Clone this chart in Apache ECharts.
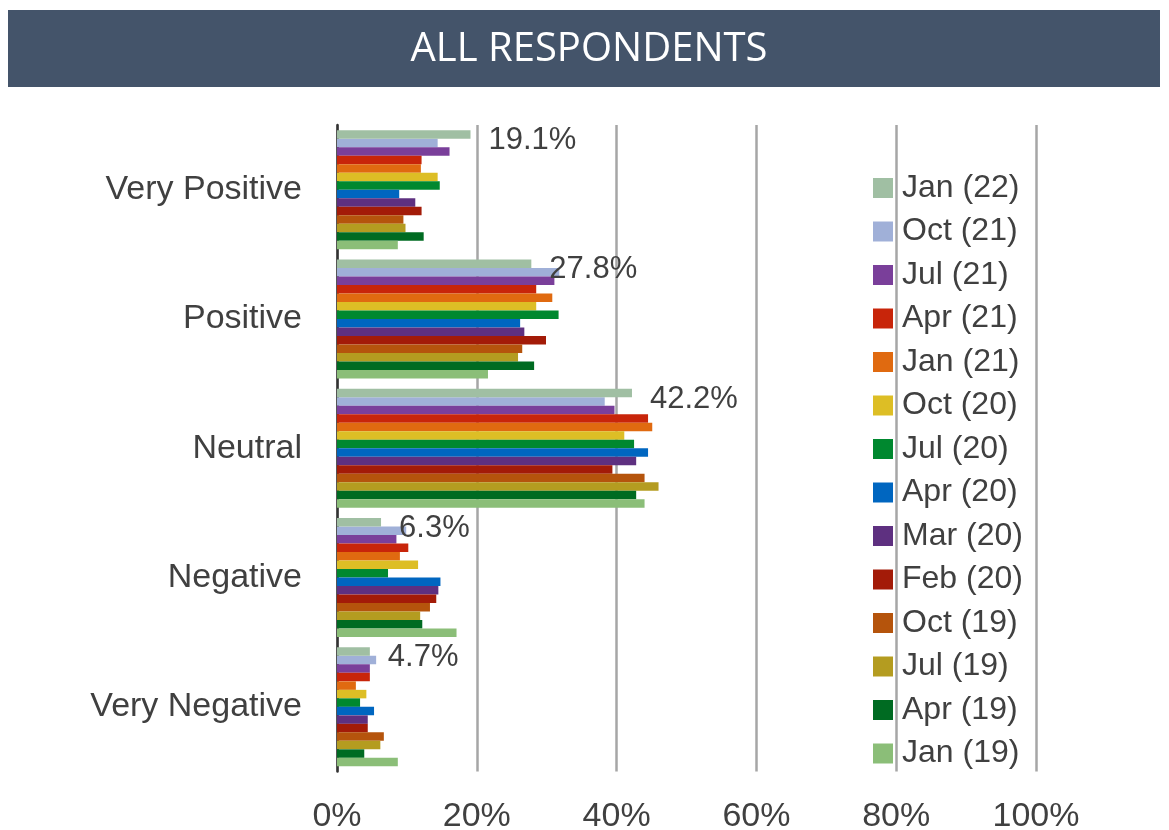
<!DOCTYPE html>
<html>
<head>
<meta charset="utf-8">
<script src="https://cdn.jsdelivr.net/npm/echarts@6/dist/echarts.min.js"></script>
<style>
html,body{margin:0;padding:0;background:#fff;}
#chart{width:1169px;height:830px;}
</style>
</head>
<body>
<div id="chart"></div>
<script>
const categories = ['Very Positive', 'Positive', 'Neutral', 'Negative', 'Very Negative'];
const xTicks = ['0%', '20%', '40%', '60%', '80%', '100%'];
const seriesNames = ['Jan (22)', 'Oct (21)', 'Jul (21)', 'Apr (21)', 'Jan (21)', 'Oct (20)', 'Jul (20)', 'Apr (20)', 'Mar (20)', 'Feb (20)', 'Oct (19)', 'Jul (19)', 'Apr (19)', 'Jan (19)'];
const seriesColors = ['#A0BFA3', '#A0B0D8', '#7A3F9A', '#C8250A', '#E06A10', '#DDBE25', '#00882F', '#0066C0', '#5E3080', '#A31B08', '#B5540C', '#B49C20', '#006B22', '#8BBE78'];

const jan22 = [19.1, 27.8, 42.2, 6.3, 4.7];
const oct21 = [14.4, 31.8, 38.3, 9.9, 5.6];
const jul21 = [16.1, 31.1, 39.7, 8.5, 4.7];
const apr21 = [12.1, 28.5, 44.5, 10.2, 4.7];
const jan21 = [12.0, 30.8, 45.1, 9.0, 2.7];
const oct20 = [14.4, 28.5, 41.1, 11.6, 4.2];
const jul20 = [14.7, 31.7, 42.5, 7.3, 3.3];
const apr20 = [8.9, 26.2, 44.5, 14.8, 5.3];
const mar20 = [11.2, 26.8, 42.8, 14.5, 4.4];
const feb20 = [12.1, 29.9, 39.4, 14.2, 4.4];
const oct19 = [9.5, 26.5, 44.0, 13.3, 6.7];
const jul19 = [9.8, 25.9, 46.0, 11.9, 6.2];
const apr19 = [12.4, 28.2, 42.8, 12.2, 3.9];
const jan19 = [8.7, 21.6, 44.0, 17.1, 8.7];

const seriesData = [jan22, oct21, jul21, apr21, jan21, oct20, jul20, apr20, mar20, feb20, oct19, jul19, apr19, jan19];

const textColor = '#404040';
const fontFamily = '"Liberation Sans", Arial, sans-serif';

const series = seriesNames.map((name, i) => ({
  name: name,
  type: 'bar',
  data: seriesData[i],
  barGap: '0%',
  barCategoryGap: '8%',
  itemStyle: { color: seriesColors[i] },
  label: i === 0 ? {
    show: true,
    position: 'right',
    distance: 18,
    offset: [0, 6],
    formatter: p => p.value.toFixed(1) + '%',
    color: textColor,
    fontSize: 31,
    fontFamily: fontFamily
  } : { show: false },
  z: i === 0 ? 5 : 2
}));

const chart = echarts.init(document.getElementById('chart'), null, { renderer: 'canvas' });
chart.setOption({
  animation: false,
  backgroundColor: '#ffffff',
  graphic: [
    { type: 'rect', shape: { x: 8, y: 10, width: 1152, height: 77 }, style: { fill: '#44546A' }, z: 0 },
    { type: 'text', x: 589, y: 50, style: { text: 'ALL RESPONDENTS', fill: '#ffffff', font: '40px "Open Sans", sans-serif', textAlign: 'center', textVerticalAlign: 'middle' }, z: 1 }
  ],
  legend: {
    orient: 'vertical',
    left: 873,
    top: 172,
    padding: 0,
    itemWidth: 20,
    itemHeight: 20,
    itemGap: 11.5,
    icon: 'rect',
    data: seriesNames,
    textStyle: { color: textColor, fontSize: 32, fontFamily: fontFamily, lineHeight: 32, padding: [0, 0, 0, 4] },
    selectedMode: false
  },
  grid: { left: 337, right: 133, top: 125, bottom: 58.5, containLabel: false, outerBoundsMode: 'none' },
  xAxis: {
    type: 'value',
    min: 0,
    max: 100,
    interval: 20,
    axisLine: { show: false },
    axisTick: { show: false },
    splitLine: { show: true, lineStyle: { color: '#A6A6A6', width: 2.5 } },
    axisLabel: {
      formatter: v => xTicks[Math.round(v / 20)],
      color: textColor,
      fontSize: 34,
      fontFamily: fontFamily,
      margin: 28
    }
  },
  yAxis: {
    type: 'category',
    data: categories,
    inverse: true,
    axisLine: { show: true, lineStyle: { color: '#333333', width: 2.5 } },
    axisTick: { show: false },
    axisLabel: { color: textColor, fontSize: 34, fontFamily: fontFamily, margin: 35 }
  },
  series: series
});
</script>
</body>
</html>
